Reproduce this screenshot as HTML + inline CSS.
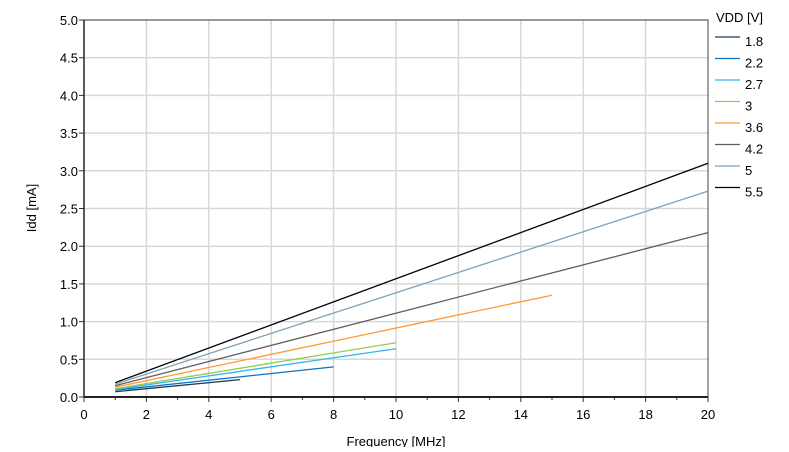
<!DOCTYPE html>
<html><head><meta charset="utf-8"><style>
body{margin:0;background:#fff;font-family:"Liberation Sans",Arial,sans-serif;}
svg text{font-family:"Liberation Sans",Arial,sans-serif;font-size:13px;fill:#000;}
</style></head><body>
<svg id="c" width="789" height="447"></svg>
<script>
const seriesNames=["1.8","2.2","2.7","3","3.6","4.2","5","5.5"];
const seriesColors=["#1f3a5a","#0a72c4","#30b8e8","#92cc50","#ff9a30","#606060","#80a2b6","#000000"];
const startX=[1,1,1,1,1,1,1,1];
const startY=[0.07,0.09,0.10,0.11,0.13,0.15,0.17,0.19];
const endX=[5,8,10,10,15,20,20,20];
const endY=[0.23,0.40,0.64,0.72,1.35,2.18,2.73,3.10];
const xTicks=[0,2,4,6,8,10,12,14,16,18,20];
const yTicks=["0.0","0.5","1.0","1.5","2.0","2.5","3.0","3.5","4.0","4.5","5.0"];
const L=84,R=708,T=20,B=397;
const sx=v=>L+(R-L)*v/20, sy=v=>B-(B-T)*v/5;
const svg=document.getElementById('c');const NS="http://www.w3.org/2000/svg";
function mk(t,a,p){const e=document.createElementNS(NS,t);for(const k in a)e.setAttribute(k,a[k]);(p||svg).appendChild(e);return e;}
for(let i=1;i<=20;i++){if(i%2===0&&i<20){const g=mk('line',{x1:sx(i),x2:sx(i),y1:T,y2:B,stroke:'#d8d8d8','stroke-width':1.5});

}}
yTicks.forEach((t,i)=>{const y=sy(+t);if(i>0){const g=mk('line',{x1:L,x2:R,y1:y,y2:y,stroke:'#d8d8d8','stroke-width':1.5});

}
mk('line',{x1:L-5,x2:L,y1:y,y2:y,stroke:'#333'});
const tx=mk('text',{x:L-6,y:y+5,'text-anchor':'end'});tx.textContent=t;

});
xTicks.forEach(v=>{const x=sx(v);mk('line',{x1:x,x2:x,y1:B,y2:B+5,stroke:'#333'});
const tx=mk('text',{x:x,y:B+22,'text-anchor':'middle'});tx.textContent=v;

});
for(let v=1;v<20;v+=2)mk('line',{x1:sx(v),x2:sx(v),y1:B,y2:B+3,stroke:'#333'});
mk('rect',{x:L,y:T,width:R-L,height:B-T,fill:'none',stroke:'#444','stroke-width':1});
mk('line',{x1:L,x2:R,y1:B,y2:B,stroke:'#222','stroke-width':2});
mk('line',{x1:L,x2:L,y1:T,y2:B,stroke:'#222','stroke-width':1.5});
seriesNames.forEach((n,i)=>{const l=mk('line',{x1:sx(startX[i]),y1:sy(startY[i]),x2:sx(endX[i]),y2:sy(endY[i]),stroke:seriesColors[i],'stroke-width':1.3});


const y=40+i*21.5;
const ll=mk('line',{x1:715,x2:740,y1:y-3,y2:y-3,stroke:seriesColors[i],'stroke-width':1.3});


const lt=mk('text',{x:745,y:y+6});lt.textContent=n;

});
const lg=mk('text',{x:716,y:22});lg.textContent='VDD [V]';


const xt=mk('text',{x:(L+R)/2,y:446,'text-anchor':'middle'});xt.textContent='Frequency [MHz]';


const yt=mk('text',{x:36,y:208,'text-anchor':'middle',transform:'rotate(-90 36 208)'});yt.textContent='Idd [mA]';


</script>
</body></html>
